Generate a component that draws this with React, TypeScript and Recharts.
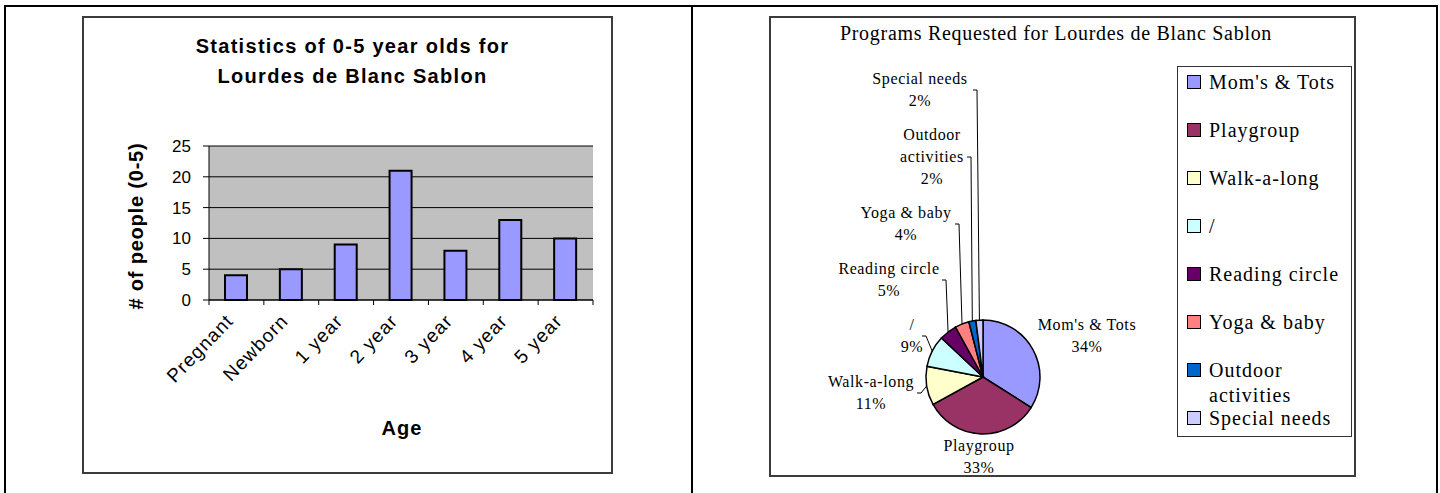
import React from 'react';
import { BarChart, Bar, XAxis, YAxis, CartesianGrid, PieChart, Pie, Cell, Legend } from 'recharts';

// left chart: people aged 0-5
const ageGroups = ['Pregnant', 'Newborn', '1 year', '2 year', '3 year', '4 year', '5 year'];
const peopleCounts = [4, 5, 9, 21, 8, 13, 10];
const countTicks = [0, 5, 10, 15, 20, 25];

// right chart: programs requested (percent)
const programs = [
  "Mom's & Tots",
  'Playgroup',
  'Walk-a-long',
  '/',
  'Reading circle',
  'Yoga & baby',
  'Outdoor activities',
  'Special needs',
];
const programShares = [34, 33, 11, 9, 5, 4, 2, 2];
const programColors = ['#9999FF', '#993366', '#FFFFCC', '#CCFFFF', '#660066', '#FF8080', '#0066CC', '#CCCCFF'];

// hand placed label blocks, relative to pie centre (like the Excel original)
const labelSpots = [
  { dx: 104, dy: -42, elbow: null, wrap: false },
  { dx: -4, dy: 79, elbow: null, wrap: false },
  { dx: -112, dy: 15, elbow: -62, wrap: false },
  { dx: -71, dy: -42, elbow: -57, wrap: false },
  { dx: -94, dy: -98, elbow: -37, wrap: false },
  { dx: -77, dy: -154, elbow: -24, wrap: false },
  { dx: -51, dy: -221, elbow: -12, wrap: true },
  { dx: -63, dy: -288, elbow: -6, wrap: false },
];

const ageData = ageGroups.map((age, i) => ({ age, count: peopleCounts[i] }));
const programData = programs.map((name, i) => ({ name, share: programShares[i] }));

const SANS = '"Liberation Sans", Arial, sans-serif';
const SERIF = '"Liberation Serif", "Times New Roman", serif';
const PLOT_W = 384;
const RAD = Math.PI / 180;

const AgeTick = (props: any) => {
  const { x, y, payload, index } = props;
  const half = payload && payload.offset > 0 ? payload.offset : PLOT_W / ageGroups.length / 2;
  const axisY = y - 5;
  const tx = x - 2;
  const ty = axisY + 22;
  return (
    <g>
      <line x1={x - half} y1={axisY} x2={x - half} y2={axisY + 5} stroke="#000" />
      {index === ageGroups.length - 1 && (
        <line x1={x + half} y1={axisY} x2={x + half} y2={axisY + 5} stroke="#000" />
      )}
      <text
        x={tx}
        y={ty}
        transform={`rotate(-46 ${tx} ${ty})`}
        textAnchor="end"
        fontFamily={SANS}
        fontSize={19}
        letterSpacing={1.1}
        fill="#000"
      >
        {payload.value}
      </text>
    </g>
  );
};

const renderPieLabel = (props: any) => {
  const { cx, cy, midAngle, outerRadius, index, name, percent } = props;
  const spot = labelSpots[index];
  const lx = cx + spot.dx;
  const ly = cy + spot.dy;
  const lines: string[] = spot.wrap ? name.split(' ') : [name];
  lines.push(`${Math.round(percent * 100)}%`);
  const ex = cx + outerRadius * Math.cos(-midAngle * RAD);
  const ey = cy + outerRadius * Math.sin(-midAngle * RAD);
  return (
    <g key={`lbl-${index}`}>
      {spot.elbow !== null && (
        <polyline
          points={`${ex},${ey} ${cx + spot.elbow},${ly + 1} ${cx + spot.elbow - 4},${ly + 1}`}
          fill="none"
          stroke="#000"
          strokeWidth={1}
        />
      )}
      {lines.map((t, i) => (
        <text
          key={i}
          x={lx}
          y={ly + (i - (lines.length - 1) / 2) * 22}
          textAnchor="middle"
          dominantBaseline="central"
          fontFamily={SERIF}
          fontSize={16}
          letterSpacing={0.6}
          fill="#000"
        >
          {t}
        </text>
      ))}
    </g>
  );
};

const renderLegend = (props: any) => {
  // keep the data order (recharts sorts legend items by default)
  const items = [...(props.payload || [])].sort(
    (a: any, b: any) => programs.indexOf(a.value) - programs.indexOf(b.value)
  );
  return (
    <div
      style={{
        position: 'relative',
        width: 175,
        height: 371,
        border: '1px solid #333',
        boxSizing: 'border-box',
        background: '#fff',
        fontFamily: SERIF,
        fontSize: 20,
        letterSpacing: 1,
        color: '#000',
      }}
    >
      {items.map((item: any, i: number) => (
        <div
          key={i}
          style={{ position: 'absolute', left: 9, top: 2.5 + 48 * i, width: 165, display: 'flex', lineHeight: '25px' }}
        >
          <span
            style={{
              width: 14,
              height: 14,
              marginTop: 5.5,
              flex: 'none',
              boxSizing: 'border-box',
              border: '1px solid #000',
              background: item.color || programColors[i],
            }}
          />
          <span style={{ marginLeft: 8 }}>{item.value}</span>
        </div>
      ))}
    </div>
  );
};

export default function App() {
  return (
    <div style={{ position: 'absolute', left: 0, top: 0, width: 1440, height: 493, background: '#fff', overflow: 'hidden' }}>
      {/* page table frame */}
      <div
        style={{
          position: 'absolute',
          left: 4,
          top: 5,
          width: 1434,
          height: 520,
          boxSizing: 'border-box',
          borderTop: '2px solid #000',
          borderLeft: '2px solid #000',
          borderRight: '2px solid #000',
        }}
      />
      <div style={{ position: 'absolute', left: 691, top: 5, width: 2, height: 500, background: '#000' }} />

      {/* bar chart */}
      <div style={{ position: 'absolute', left: 82, top: 16, width: 531, height: 458 }}>
        <BarChart
          width={531}
          height={458}
          data={ageData}
          margin={{ top: 130, right: 20, bottom: 74, left: 67 }}
          barSize={22}
        >
          <CartesianGrid vertical={false} stroke="#000" fill="#C0C0C0" fillOpacity={1} />
          <XAxis
            xAxisId="top"
            orientation="top"
            dataKey="age"
            height={0}
            tick={false}
            tickLine={false}
            axisLine={{ stroke: '#808080' }}
          />
          <YAxis
            yAxisId="right"
            orientation="right"
            width={0}
            domain={[0, 25]}
            ticks={countTicks}
            tick={false}
            tickLine={false}
            axisLine={{ stroke: '#808080' }}
          />
          <XAxis
            dataKey="age"
            height={100}
            interval={0}
            tickLine={false}
            tickSize={5}
            tickMargin={0}
            axisLine={{ stroke: '#000' }}
            tick={<AgeTick />}
            label={{
              content: (p: any) => {
                const vb = p.viewBox || { x: 127, y: 284, width: 384 };
                return (
                  <text
                    x={vb.x + vb.width / 2 + 1}
                    y={vb.y + 128}
                    textAnchor="middle"
                    dominantBaseline="central"
                    fontFamily={SANS}
                    fontWeight="bold"
                    fontSize={20}
                    letterSpacing={1}
                    fill="#000"
                  >
                    Age
                  </text>
                );
              },
            }}
          />
          <YAxis
            domain={[0, 25]}
            ticks={countTicks}
            width={60}
            tickSize={6}
            tickMargin={12}
            interval={0}
            axisLine={{ stroke: '#000' }}
            tickLine={{ stroke: '#000' }}
            tick={{ fontFamily: SANS, fontSize: 17, fill: '#000' }}
            label={{
              content: (p: any) => {
                const vb = p.viewBox || { x: 67, y: 130, height: 154 };
                const lx = vb.x - 13;
                const ly = vb.y + vb.height / 2 + 3;
                return (
                  <text
                    x={lx}
                    y={ly}
                    transform={`rotate(-90 ${lx} ${ly})`}
                    textAnchor="middle"
                    dominantBaseline="central"
                    fontFamily={SANS}
                    fontWeight="bold"
                    fontSize={20}
                    letterSpacing={0.8}
                    fill="#000"
                  >
                    # of people (0-5)
                  </text>
                );
              },
            }}
          />
          <Bar dataKey="count" fill="#9999FF" stroke="#000" strokeWidth={2} isAnimationActive={false} />
        </BarChart>
        <div
          style={{
            position: 'absolute',
            left: 5,
            top: 15,
            width: 531,
            textAlign: 'center',
            fontFamily: SANS,
            fontWeight: 'bold',
            fontSize: 20,
            lineHeight: '30px',
            letterSpacing: 1.3,
            color: '#000',
          }}
        >
          Statistics of 0-5 year olds for
          <br />
          Lourdes de Blanc Sablon
        </div>
        <div
          style={{
            position: 'absolute',
            inset: 0,
            boxSizing: 'border-box',
            border: '2px solid #3c3c3c',
            pointerEvents: 'none',
          }}
        />
      </div>

      {/* pie chart */}
      <div style={{ position: 'absolute', left: 769, top: 16, width: 587, height: 461 }}>
        <PieChart width={587} height={461} margin={{ top: 0, right: 0, bottom: 0, left: 0 }}>
          <Pie
            data={programData}
            dataKey="share"
            nameKey="name"
            cx={214}
            cy={361}
            outerRadius={57}
            startAngle={90}
            endAngle={-270}
            stroke="#000"
            strokeWidth={1.5}
            label={renderPieLabel}
            labelLine={false}
            isAnimationActive={false}
          >
            {programData.map((d, i) => (
              <Cell key={d.name} fill={programColors[i]} />
            ))}
          </Pie>
          <Legend
            layout="vertical"
            align="right"
            verticalAlign="middle"
            width={175}
            content={renderLegend}
            wrapperStyle={{ left: 408, top: 50, width: 175, height: 371 }}
          />
        </PieChart>
        <div
          style={{
            position: 'absolute',
            left: 0,
            top: 7,
            width: 574,
            textAlign: 'center',
            fontFamily: SERIF,
            fontSize: 20,
            lineHeight: '20px',
            letterSpacing: 0.7,
            color: '#000',
            whiteSpace: 'nowrap',
          }}
        >
          Programs Requested for Lourdes de Blanc Sablon
        </div>
        <div
          style={{
            position: 'absolute',
            inset: 0,
            boxSizing: 'border-box',
            border: '2px solid #3c3c3c',
            pointerEvents: 'none',
          }}
        />
      </div>
    </div>
  );
}
